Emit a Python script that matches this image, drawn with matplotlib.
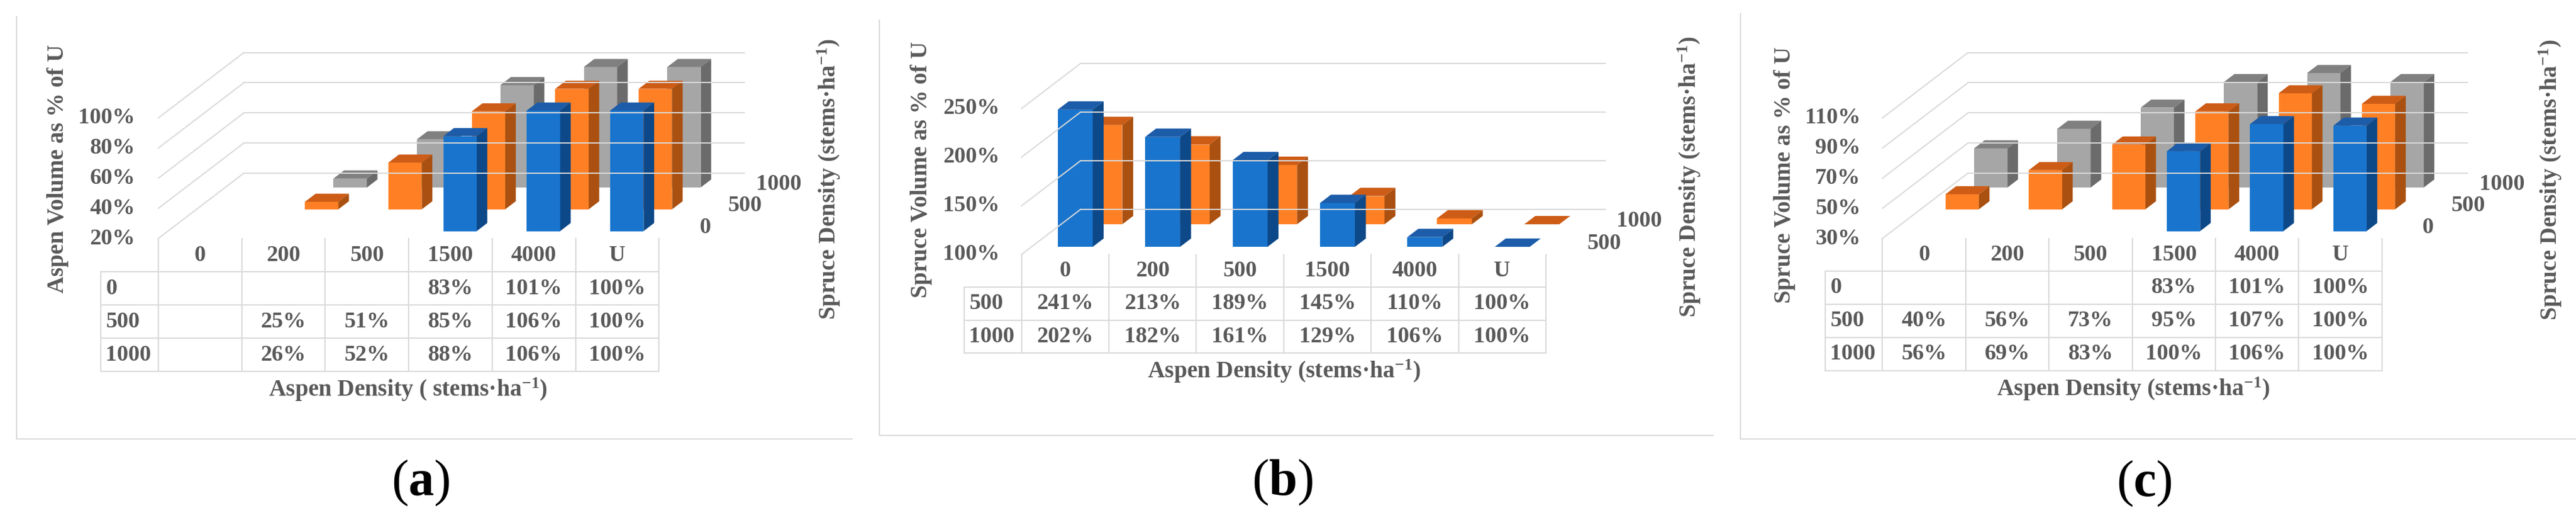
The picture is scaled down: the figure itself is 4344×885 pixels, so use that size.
import numpy as np
import matplotlib
matplotlib.use("Agg")
import matplotlib.pyplot as plt
from matplotlib.patches import Polygon

plt.rcParams['font.family'] = ['Liberation Serif', 'DejaVu Serif']
plt.rcParams['font.weight'] = 'bold'
plt.rcParams['mathtext.fontset'] = 'custom'
plt.rcParams['mathtext.rm'] = 'Liberation Serif:bold'
plt.rcParams['mathtext.bf'] = 'Liberation Serif:bold'
plt.rcParams['mathtext.default'] = 'bf'

W, H = 4344, 885

# aspen density classes (table columns)
aspen = ["0", "200", "500", "1500", "4000", "U"]

# (a) aspen volume as % of U, rows = spruce density
a_rows = ["0", "500", "1000"]
a_0 = [None, None, None, 83, 101, 100]
a_500 = [None, 25, 51, 85, 106, 100]
a_1000 = [None, 26, 52, 88, 106, 100]
a_ticks = [20, 40, 60, 80, 100]

# (b) spruce volume as % of U
b_rows = ["500", "1000"]
b_500 = [241, 213, 189, 145, 110, 100]
b_1000 = [202, 182, 161, 129, 106, 100]
b_ticks = [100, 150, 200, 250]

# (c) spruce volume as % of U
c_rows = ["0", "500", "1000"]
c_0 = [None, None, None, 83, 101, 100]
c_500 = [40, 56, 73, 95, 107, 100]
c_1000 = [56, 69, 83, 100, 106, 100]
c_ticks = [30, 50, 70, 90, 110]

# front / top / side colours per series
COLS = [("#1874CD", "#1C5CA8", "#0D4888"),
        ("#FF8024", "#CD5C16", "#AA5010"),
        ("#A6A6A6", "#808080", "#6B6B6B")]
GRID = "#D9D9D9"
TXT = "#595959"
K = 1.31          # oblique depth ratio dx/dy
FS = 27.5
FT = 28.5

fig = plt.figure(figsize=(W / 100, H / 100), dpi=100)
bg = fig.add_axes([0, 0, 1, 1])
bg.set_xlim(0, W)
bg.set_ylim(H, 0)
bg.axis('off')


def draw_panel(lay, rows, series, ticks, ytitle, xtitle, letter):
    col0, cw, floor, s = lay['col0'], lay['cw'], lay['floor'], lay['s']
    slot, hh, rh = lay['slot'], lay['head_h'], lay['row_h']
    vmin, vmax = ticks[0], ticks[-1]
    n = len(rows)

    # frame (left and bottom edge only, as cropped in the source)
    fl, ft, fr, fb = lay['frame']
    bg.plot([fl, fl, fr], [ft, fb, fb], color=GRID, lw=1.5)

    ax = fig.add_axes([col0 / W, 1 - floor / H, 6 * cw / W, (vmax - vmin) * s / H])
    ax.set_xlim(-0.5, 5.5)
    ax.set_ylim(vmin, vmax)
    ax.axis('off')

    def ddx(px):
        return K * px / cw

    def ddy(px):
        return px / s

    full = n * slot
    for t in ticks:
        ax.plot([-0.5, -0.5 + ddx(full)], [t, t + ddy(full)], color=GRID, lw=1.5, clip_on=False)
        ax.plot([-0.5 + ddx(full), 5.5 + ddx(full)], [t + ddy(full)] * 2,
                color=GRID, lw=1.5, clip_on=False)
        bg.text(lay['ylab_x'], floor - (t - vmin) * s, f"{t}%", ha='right', va='center',
                fontsize=FS, color=TXT)

    bw = 0.4
    gap = 0.34 * slot
    bd = 0.37 * slot
    x = np.arange(len(aspen))
    for r in reversed(range(n)):
        front, top, side = COLS[r]
        d0 = r * slot + gap
        vals = np.array([np.nan if v is None else min(v, vmax) for v in series[r]], float)
        ok = ~np.isnan(vals)
        xc = x[ok] + ddx(d0)
        base = vmin + ddy(d0)
        hts = vals[ok] - vmin
        ax.bar(xc, hts, bottom=base, width=bw, color=front, linewidth=0, clip_on=False)
        for xi, hi in zip(xc, hts):
            xl, xr, tp = xi - bw / 2, xi + bw / 2, base + hi
            ax.add_patch(Polygon([(xl, tp), (xr, tp), (xr + ddx(bd), tp + ddy(bd)),
                                  (xl + ddx(bd), tp + ddy(bd))], closed=True,
                                 facecolor=top, edgecolor='none', clip_on=False))
            ax.add_patch(Polygon([(xr, base), (xr + ddx(bd), base + ddy(bd)),
                                  (xr + ddx(bd), tp + ddy(bd)), (xr, tp)], closed=True,
                                 facecolor=side, edgecolor='none', clip_on=False))
        # depth axis label
        bg.text(col0 + 6 * cw + K * (r + 0.5) * slot + 44, floor - (r + 0.5) * slot, rows[r],
                ha='left', va='center', fontsize=FS, color=TXT)

    # data table
    right = col0 + 6 * cw
    bottom = floor + hh + n * rh
    for j in range(7):
        bg.plot([col0 + j * cw] * 2, [floor, bottom], color=GRID, lw=1.5)
    bg.plot([lay['lab_x']] * 2, [floor + hh, bottom], color=GRID, lw=1.5)
    for j in range(n + 1):
        bg.plot([lay['lab_x'], right], [floor + hh + j * rh] * 2, color=GRID, lw=1.5)
    for i, lab in enumerate(aspen):
        bg.text(col0 + (i + 0.5) * cw, floor + hh / 2, lab, ha='center', va='center',
                fontsize=FS, color=TXT)
    for r in range(n):
        yc = floor + hh + (r + 0.5) * rh
        bg.text(lay['lab_x'] + 8, yc, rows[r], ha='left', va='center', fontsize=FS, color=TXT)
        for i, v in enumerate(series[r]):
            if v is not None:
                bg.text(col0 + (i + 0.5) * cw, yc, f"{v}%", ha='center', va='center',
                        fontsize=FS, color=TXT)

    # titles
    bg.text(*lay['ytitle'], ytitle, rotation=90, ha='center', va='center', fontsize=FT, color=TXT)
    bg.text(*lay['rtitle'], r"Spruce Density (stems·ha$^{-1}$)", rotation=90, ha='center',
            va='center', fontsize=FT, color=TXT)
    bg.text(*lay['xtitle'], xtitle, ha='center', va='center', fontsize=FT, color=TXT)
    bg.text(*lay['cap'], r"($\mathbf{" + letter + "}$)", ha='center', va='center',
            fontsize=62, fontweight='normal', color='black')


lay_a = dict(frame=(28, 28, 1437, 740), col0=267, cw=140.7, floor=402, s=2.54, slot=36.7,
             head_h=56, row_h=56, lab_x=170, ylab_x=228, ytitle=(98, 285), rtitle=(1398, 302),
             xtitle=(688, 657), cap=(709, 814))
lay_b = dict(frame=(1483, 34, 2889, 734), col0=1722.6, cw=147.4, floor=429, s=1.64, slot=38,
             head_h=55, row_h=55.5, lab_x=1626, ylab_x=1686, ytitle=(1553, 286),
             rtitle=(2849, 298), xtitle=(2165, 626), cap=(2163, 813))
lay_c = dict(frame=(2935, 23, 4344, 740), col0=3174.4, cw=140.4, floor=402, s=2.54, slot=36.7,
             head_h=55, row_h=56, lab_x=3078, ylab_x=3137.6, ytitle=(3009, 295),
             rtitle=(4301, 303), xtitle=(3597, 656), cap=(3616, 815))

draw_panel(lay_a, a_rows, [a_0, a_500, a_1000], a_ticks, "Aspen Volume as % of U",
           r"Aspen Density ( stems·ha$^{-1}$)", "a")
draw_panel(lay_b, b_rows, [b_500, b_1000], b_ticks, "Spruce Volume as % of U",
           r"Aspen Density (stems·ha$^{-1}$)", "b")
draw_panel(lay_c, c_rows, [c_0, c_500, c_1000], c_ticks, "Spruce Volume as % of U",
           r"Aspen Density (stems·ha$^{-1}$)", "c")

fig.savefig("out.png", dpi=100, facecolor='white')
